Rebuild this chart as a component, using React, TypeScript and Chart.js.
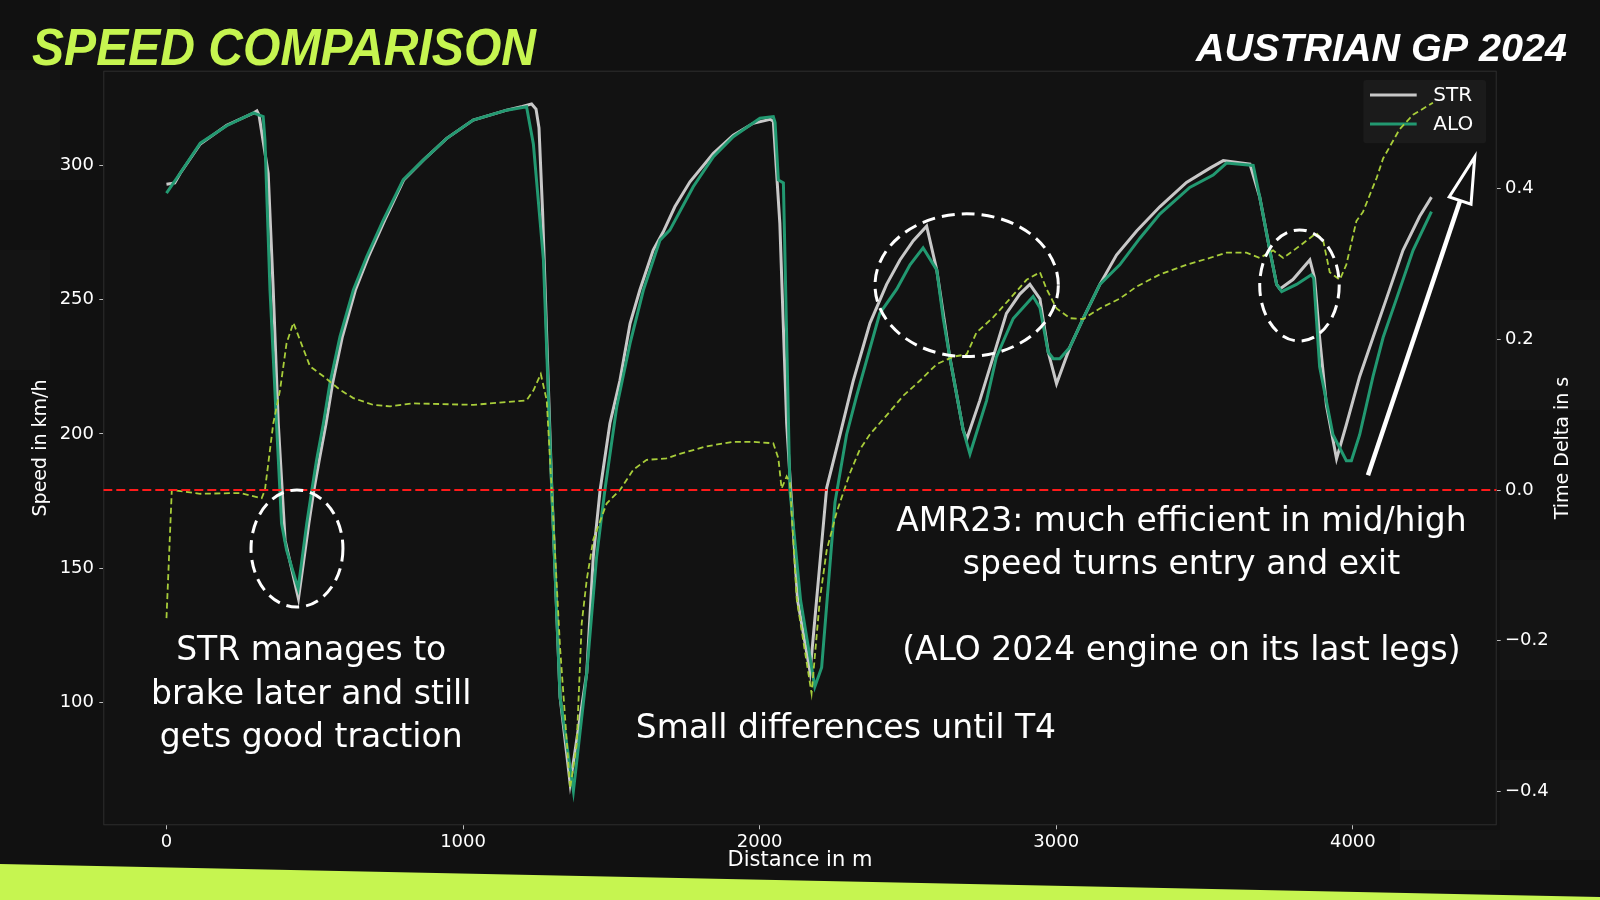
import React, { useEffect, useRef } from "react";
import { Chart, registerables } from "chart.js";

Chart.register(...registerables);

// ---------- tick labels ----------
const distanceTicks = [0, 1000, 2000, 3000, 4000];
const speedTicks = [100, 150, 200, 250, 300];
const deltaTicks = [-0.4, -0.2, 0, 0.2, 0.4];

// ---------- series: STR ----------
const strDistance = [
  0, 28, 46, 114, 203, 293, 305, 312, 343, 360,
  377, 400, 445, 480, 497, 515, 538, 560, 593, 637,
  681, 736, 800, 866, 945, 1034, 1147, 1200, 1231, 1246,
  1256, 1268, 1299, 1327, 1361, 1417, 1439, 1462, 1495, 1529,
  1563, 1596, 1641, 1675, 1714, 1765, 1844, 1911, 1978, 2035,
  2046, 2068, 2091, 2128, 2170, 2226, 2271, 2315, 2372, 2428,
  2473, 2518, 2563, 2597, 2641, 2686, 2698, 2742, 2787, 2832,
  2877, 2911, 2945, 2973, 3001, 3046, 3091, 3147, 3203, 3271,
  3349, 3439, 3518, 3563, 3653, 3686, 3720, 3743, 3754, 3798,
  3855, 3871, 3888, 3911, 3945, 3978, 4023, 4068, 4113, 4169,
  4225, 4265,
];
const strSpeed = [
  293, 293.5, 297, 308, 315, 319.5, 320.3, 318.8, 297, 253.6,
  203.9, 160.4, 138.6, 166.6, 179, 190.2, 203.9, 218.8, 236.2, 253.6,
  266, 279.6, 294.6, 302, 310.1, 316.9, 320.6, 322, 322.9, 321,
  314, 283, 180, 102, 69.7, 111, 154.2, 179, 203.9, 220,
  241.1, 253.6, 268.5, 275.3, 284.6, 293.9, 304.5, 311.3, 315.7, 317.2,
  316.5, 278.4, 203.9, 138, 111.3, 179.9, 199.7, 219.6, 241.3, 255.7,
  264.8, 272, 277.4, 261.1, 228.6, 201.5, 198, 212.4, 228.6, 244.9,
  252.1, 255.7, 250.3, 230.4, 218.7, 232.3, 243, 255.7, 266.6, 275.6,
  284.6, 293.7, 299, 301.8, 300.5, 288.2, 268.4, 255.7, 254, 257.5,
  264.8, 258, 235.9, 210.6, 190.7, 203.4, 221.4, 235.9, 250.3, 268.4,
  281, 288.2,
];

// ---------- series: ALO ----------
const aloDistance = [
  0, 46, 114, 203, 293, 326, 332, 349, 371, 388,
  405, 444, 473, 490, 506, 529, 551, 585, 630, 675,
  731, 798, 866, 945, 1034, 1147, 1214, 1237, 1271, 1299,
  1327, 1372, 1417, 1450, 1478, 1518, 1563, 1608, 1664, 1697,
  1776, 1844, 1911, 2001, 2046, 2052, 2063, 2080, 2102, 2138,
  2186, 2209, 2254, 2293, 2327, 2405, 2462, 2507, 2551, 2597,
  2619, 2641, 2686, 2709, 2765, 2798, 2855, 2922, 2945, 2973,
  2990, 3012, 3046, 3091, 3147, 3214, 3282, 3349, 3450, 3529,
  3574, 3664, 3686, 3720, 3743, 3760, 3810, 3860, 3868, 3888,
  3933, 3978, 3995, 4023, 4068, 4102, 4147, 4203, 4265,
];
const aloSpeed = [
  289.7, 297.1, 308.3, 314.8, 319.6, 318.2, 309.5, 253.6, 203.9, 166.6,
  156.7, 142.4, 166.6, 179, 190.2, 203.9, 218.8, 236.2, 253.6, 266,
  279.6, 294.6, 302, 310.1, 316.9, 320.6, 321.9, 308, 264.8, 179,
  102, 67, 111, 154, 179, 210, 233.7, 253.6, 272.2, 275.9,
  292.1, 303.3, 310.7, 317.6, 318.2, 316, 294.6, 293.5, 179, 138,
  105.8, 113, 174.5, 199.7, 214.2, 244.9, 253.9, 263, 269.3, 261.1,
  243, 228.6, 201.5, 192.5, 212.4, 228.6, 243, 251.2, 247, 230.4,
  228, 228, 232.3, 243, 255.7, 263, 272.9, 281.9, 291.8, 296.4,
  300.9, 300, 288.2, 268.4, 255.7, 253, 255.7, 259.3, 258, 225,
  199.7, 190, 190, 199.7, 221.4, 235.9, 250.3, 268.4, 282.8,
];

// ---------- series: time delta (s) ----------
const deltaDistance = [
  0, 18, 114, 248, 321, 332, 360, 383, 405, 428,
  450, 484, 529, 585, 630, 697, 754, 832, 1034, 1214,
  1237, 1262, 1282, 1299, 1327, 1361, 1383, 1400, 1417, 1439,
  1484, 1529, 1574, 1619, 1686, 1731, 1776, 1821, 1911, 1978,
  2046, 2063, 2074, 2091, 2102, 2125, 2175, 2203, 2226, 2260,
  2304, 2338, 2372, 2428, 2484, 2540, 2597, 2653, 2698, 2731,
  2787, 2844, 2900, 2945, 2967, 3001, 3046, 3091, 3147, 3214,
  3271, 3349, 3439, 3518, 3574, 3641, 3686, 3731, 3765, 3821,
  3877, 3900, 3922, 3956, 3978, 4012, 4034, 4080, 4102, 4158,
  4203, 4270,
];
const deltaSeconds = [
  -0.17, 0.0, -0.005, -0.004, -0.011, 0.0, 0.088, 0.133, 0.195, 0.222,
  0.199, 0.164, 0.151, 0.133, 0.122, 0.113, 0.111, 0.115, 0.113, 0.119,
  0.132, 0.154, 0.119, 0.0, -0.209, -0.396, -0.338, -0.177, -0.119, -0.066,
  -0.018, 0.0, 0.027, 0.04, 0.042, 0.048, 0.053, 0.058, 0.064, 0.064,
  0.062, 0.042, 0.002, 0.018, 0.01, -0.145, -0.27, -0.145, -0.08, -0.029,
  0.022, 0.054, 0.074, 0.099, 0.125, 0.145, 0.167, 0.177, 0.18, 0.209,
  0.229, 0.254, 0.279, 0.289, 0.267, 0.241, 0.228, 0.227, 0.241, 0.254,
  0.27, 0.286, 0.299, 0.308, 0.315, 0.315, 0.308, 0.318, 0.308, 0.324,
  0.341, 0.331, 0.289, 0.279, 0.299, 0.357, 0.369, 0.414, 0.44, 0.479,
  0.498, 0.514,
];

// ---------- annotations (data coordinates) ----------
const ellipses = [
  { x: 440, y: 157.3, rx: 155, ry: 21.8 },
  { x: 2698, y: 255.4, rx: 309, ry: 26.6 },
  { x: 3820, y: 255.3, rx: 134, ry: 20.7 },
];
const arrow = { fromX: 4051, fromY: 184.6, toX: 4411, toY: 303.2 };
const textBlocks = [
  { x: 488, y: 115.7, lines: ["STR manages to", "brake later and still", "gets good traction"] },
  { x: 2291, y: 86.9, lines: ["Small differences until T4"] },
  {
    x: 3422,
    y: 164.0,
    lines: ["AMR23: much efficient in mid/high", "speed turns entry and exit", "", "(ALO 2024 engine on its last legs)"],
  },
];

const FONT = "'DejaVu Sans', 'Noto Sans', sans-serif";
const LIME = "#c6f550";
const STR_COLOR = "#c8c8c8";
const ALO_COLOR = "#229971";
const DELTA_COLOR = "#a8cd3a";

const X_MIN = -213;
const X_MAX = 4485;

const toPoints = (xs: number[], ys: number[]) => xs.map((x, i) => ({ x, y: ys[i] }));

function drawFitted(
  ctx: CanvasRenderingContext2D,
  text: string,
  x: number,
  y: number,
  w: number,
  font: string,
  color: string,
  align: CanvasTextAlign
) {
  ctx.save();
  ctx.font = font;
  const m = ctx.measureText(text).width;
  const sx = w / m;
  ctx.translate(x, y);
  ctx.scale(sx, 1);
  ctx.textAlign = align;
  ctx.textBaseline = "alphabetic";
  ctx.fillStyle = color;
  ctx.fillText(text, 0, 0);
  ctx.restore();
}

const decorPlugin = {
  id: "decor",
  beforeDraw(chart: any) {
    const { ctx, width, height, chartArea: ca } = chart;
    ctx.save();
    ctx.fillStyle = "#111111";
    ctx.fillRect(0, 0, width, height);
    // faint checkered tiles in the background
    ctx.fillStyle = "rgba(255,255,255,0.014)";
    const tiles = [
      [0, 70, 60, 110], [0, 250, 50, 120], [60, 0, 120, 60], [1500, 560, 100, 120],
      [1500, 760, 100, 100], [1400, 830, 100, 40], [1500, 300, 100, 110],
    ];
    tiles.forEach(([tx, ty, tw, th]) => ctx.fillRect(tx, ty, tw, th));
    ctx.fillStyle = "#121212";
    ctx.fillRect(ca.left, ca.top, ca.right - ca.left, ca.bottom - ca.top);
    // lime band at the bottom
    ctx.fillStyle = LIME;
    ctx.beginPath();
    ctx.moveTo(0, 864);
    ctx.lineTo(width, 897);
    ctx.lineTo(width, height);
    ctx.lineTo(0, height);
    ctx.closePath();
    ctx.fill();
    // titles
    drawFitted(ctx, "SPEED COMPARISON", 32, 65, 504, `italic bold 51px 'Liberation Sans', sans-serif`, LIME, "left");
    drawFitted(ctx, "AUSTRIAN GP 2024", 1567, 61, 371, `italic bold 39px 'Liberation Sans', sans-serif`, "#ffffff", "right");
    ctx.restore();
  },
  beforeDatasetsDraw(chart: any) {
    const { ctx, chartArea: ca } = chart;
    ctx.save();
    // frame
    ctx.strokeStyle = "#2e2e2e";
    ctx.lineWidth = 1;
    ctx.strokeRect(ca.left + 0.5, ca.top + 0.5, ca.right - ca.left - 1, ca.bottom - ca.top - 1);
    // legend (belongs to the speed axes, drawn below the delta trace)
    const boxW = 122.7;
    const boxH = 63.3;
    const boxL = ca.right - 10.7 - boxW;
    const boxT = ca.top + 9.3;
    ctx.fillStyle = "#1b1b1b";
    ctx.beginPath();
    (ctx as any).roundRect(boxL, boxT, boxW, boxH, 3);
    ctx.fill();
    const entries = chart.data.datasets.filter((d: any) => d.label === "STR" || d.label === "ALO");
    entries.forEach((d: any, i: number) => {
      const y = boxT + 15 + i * 29;
      ctx.strokeStyle = d.borderColor;
      ctx.lineWidth = 3;
      ctx.beginPath();
      ctx.moveTo(boxL + 6.7, y);
      ctx.lineTo(boxL + 53.4, y);
      ctx.stroke();
      ctx.fillStyle = "#ffffff";
      ctx.font = `20px ${FONT}`;
      ctx.textAlign = "left";
      ctx.textBaseline = "middle";
      ctx.fillText(d.label, boxL + 70, y + 1);
    });
    ctx.restore();
  },
  afterDatasetsDraw(chart: any) {
    const { ctx } = chart;
    const xs = chart.scales.x;
    const ys = chart.scales.y;
    ctx.save();
    // dashed ellipses
    ctx.strokeStyle = "#ffffff";
    ctx.lineWidth = 3;
    ctx.setLineDash([13, 7]);
    ellipses.forEach((e) => {
      const cx = xs.getPixelForValue(e.x);
      const cy = ys.getPixelForValue(e.y);
      const rx = Math.abs(xs.getPixelForValue(e.x + e.rx) - cx);
      const ry = Math.abs(ys.getPixelForValue(e.y + e.ry) - cy);
      ctx.beginPath();
      ctx.ellipse(cx, cy, rx, ry, 0, 0, Math.PI * 2);
      ctx.stroke();
    });
    ctx.setLineDash([]);
    // arrow
    const x1 = xs.getPixelForValue(arrow.fromX);
    const y1 = ys.getPixelForValue(arrow.fromY);
    const x2 = xs.getPixelForValue(arrow.toX);
    const y2 = ys.getPixelForValue(arrow.toY);
    const ang = Math.atan2(y2 - y1, x2 - x1);
    const ux = Math.cos(ang);
    const uy = Math.sin(ang);
    const nx = -uy;
    const ny = ux;
    const headLen = 46;
    const headHalf = 11.5;
    const bx = x2 - ux * headLen;
    const by = y2 - uy * headLen;
    ctx.strokeStyle = "#ffffff";
    ctx.lineWidth = 4.5;
    ctx.beginPath();
    ctx.moveTo(x1, y1);
    ctx.lineTo(bx, by);
    ctx.stroke();
    ctx.beginPath();
    ctx.moveTo(x2, y2);
    ctx.lineTo(bx + nx * headHalf, by + ny * headHalf);
    ctx.lineTo(bx - nx * headHalf, by - ny * headHalf);
    ctx.closePath();
    ctx.fillStyle = "#121212";
    ctx.fill();
    ctx.lineWidth = 3;
    ctx.lineJoin = "miter";
    ctx.stroke();
    // text annotations
    ctx.fillStyle = "#ffffff";
    ctx.font = `33px ${FONT}`;
    ctx.textAlign = "center";
    ctx.textBaseline = "alphabetic";
    textBlocks.forEach((b) => {
      const cx = xs.getPixelForValue(b.x);
      const by0 = ys.getPixelForValue(b.y);
      b.lines.forEach((line, i) => {
        if (line) ctx.fillText(line, cx, by0 + i * 43.3);
      });
    });
    ctx.restore();
  },
  afterDraw(chart: any) {
    const { ctx, chartArea: ca } = chart;
    ctx.save();
    ctx.translate(1563, (ca.top + ca.bottom) / 2);
    ctx.rotate(-Math.PI / 2);
    ctx.fillStyle = "#ffffff";
    ctx.font = `19px ${FONT}`;
    ctx.textAlign = "center";
    ctx.textBaseline = "middle";
    ctx.fillText("Time Delta in s", 0, 0);
    ctx.restore();
  },
};

const tickFont = { family: FONT, size: 18 };
const gridOpts = {
  display: true,
  drawOnChartArea: false,
  drawTicks: true,
  tickLength: 4,
  tickColor: "#bbbbbb",
  tickWidth: 1,
};

export default function App() {
  const canvasRef = useRef<HTMLCanvasElement | null>(null);

  useEffect(() => {
    document.body.style.margin = "0";
    document.body.style.background = "#111111";
    const canvas = canvasRef.current;
    if (!canvas) return;
    const chart = new Chart(canvas, {
      type: "line",
      data: {
        datasets: [
          {
            label: "STR",
            data: toPoints(strDistance, strSpeed),
            yAxisID: "y",
            borderColor: STR_COLOR,
            borderWidth: 3,
            pointRadius: 0,
            order: 3,
          },
          {
            label: "ALO",
            data: toPoints(aloDistance, aloSpeed),
            yAxisID: "y",
            borderColor: ALO_COLOR,
            borderWidth: 3,
            pointRadius: 0,
            order: 2,
          },
          {
            label: "Delta",
            data: toPoints(deltaDistance, deltaSeconds),
            yAxisID: "y2",
            borderColor: DELTA_COLOR,
            borderWidth: 1.8,
            borderDash: [6, 3.5],
            pointRadius: 0,
            order: 1,
          },
          {
            label: "Zero",
            data: [
              { x: X_MIN, y: 0 },
              { x: X_MAX, y: 0 },
            ],
            yAxisID: "y2",
            borderColor: "#ff1a1a",
            borderWidth: 2.2,
            borderDash: [9, 4],
            pointRadius: 0,
            order: 0,
          },
        ],
      },
      options: {
        animation: false,
        responsive: false,
        maintainAspectRatio: false,
        layout: { padding: { top: 70.7, left: 0, right: 0, bottom: 0 } },
        elements: { line: { tension: 0, borderCapStyle: "butt" }, point: { radius: 0 } },
        plugins: { legend: { display: false }, tooltip: { enabled: false }, title: { display: false } },
        scales: {
          x: {
            type: "linear",
            min: X_MIN,
            max: X_MAX,
            afterFit: (s: any) => {
              s.height = 74.7;
            },
            afterBuildTicks: (s: any) => {
              s.ticks = distanceTicks.map((v) => ({ value: v }));
            },
            ticks: {
              color: "#ffffff",
              font: tickFont,
              padding: 2,
              maxRotation: 0,
              autoSkip: false,
              callback: (v: any) => String(v),
            },
            grid: gridOpts,
            border: { display: false },
            title: {
              display: true,
              text: "Distance in m",
              color: "#ffffff",
              font: { family: FONT, size: 21 },
              padding: { top: 0, bottom: 27 },
            },
          },
          y: {
            type: "linear",
            position: "left",
            min: 54.2,
            max: 335.3,
            afterFit: (s: any) => {
              s.width = 103.3;
            },
            afterBuildTicks: (s: any) => {
              s.ticks = speedTicks.map((v) => ({ value: v }));
            },
            ticks: { color: "#ffffff", font: tickFont, padding: 5.3, autoSkip: false },
            grid: gridOpts,
            border: { display: false },
            title: {
              display: true,
              text: "Speed in km/h",
              color: "#ffffff",
              font: { family: FONT, size: 19 },
              padding: { top: 29.6, bottom: 0 },
            },
          },
          y2: {
            type: "linear",
            position: "right",
            min: -0.445,
            max: 0.5565,
            afterFit: (s: any) => {
              s.width = 103.3;
            },
            afterBuildTicks: (s: any) => {
              s.ticks = deltaTicks.map((v) => ({ value: v }));
            },
            ticks: {
              color: "#ffffff",
              font: tickFont,
              padding: 4.3,
              autoSkip: false,
              callback: (v: any) => (v < -1e-9 ? "\u2212" : "") + Math.abs(Number(v)).toFixed(1),
            },
            grid: gridOpts,
            border: { display: false },
          },
        },
      } as any,
      plugins: [decorPlugin],
    });
    return () => chart.destroy();
  }, []);

  return (
    <div style={{ position: "fixed", left: 0, top: 0, width: 1600, height: 900, background: "#111111" }}>
      <canvas ref={canvasRef} width={1600} height={900} style={{ display: "block", width: 1600, height: 900 }} />
    </div>
  );
}
